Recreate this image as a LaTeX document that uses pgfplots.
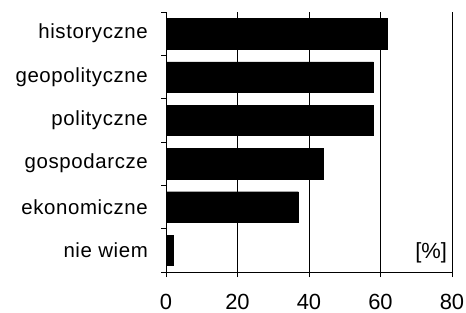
\documentclass[border=0pt]{standalone}
\usepackage{fontspec}
\setmainfont{Liberation Sans}
\newfontfamily\labelfont[LetterSpace=3]{Liberation Sans}
\usepackage{pgfplots}
\pgfplotsset{compat=1.18}
\begin{document}
\begin{tikzpicture}
\useasboundingbox (0,0) rectangle (466bp,313bp);
\begin{axis}[
  at={(166bp,41bp)}, anchor=south west,
  scale only axis, width=286bp, height=260bp,
  xbar, bar width=30.5bp,
  xmin=0, xmax=80, ymin=-0.5, ymax=5.5,
  axis x line*=bottom, axis y line*=left,
  axis line style={black, line width=0.8bp},
  xtick={0,20,40,60,80},
  xmajorgrids, grid style={black, line width=0.8bp},
  tick align=outside, major tick length=5bp,
  tick style={black, line width=0.8bp},
  ytick={-0.5,0.5,1.5,2.5,3.5,4.5,5.5}, yticklabels={},
  extra y ticks={0,1,2,3,4,5},
  extra y tick labels={nie wiem,ekonomiczne,gospodarcze,polityczne,geopolityczne,historyczne},
  extra y tick style={tick style={draw=none}},
  yticklabel style={font=\labelfont\fontsize{20.5}{22}\selectfont, anchor=east, inner sep=0pt, xshift=-13bp},
  xticklabel style={font=\fontsize{22}{24}\selectfont, anchor=north, inner sep=0pt, yshift=-17bp},
  /pgf/number format/assume math mode=true,
]
\addplot[fill=black, draw=black] coordinates {(2,0) (37,1) (44,2) (58,3) (58,4) (62,5)};
\node[anchor=base east, inner sep=0pt, font=\fontsize{22}{24}\selectfont] at (rel axis cs:0.983,0.05) {[\%]};
\end{axis}
\end{tikzpicture}
\end{document}
